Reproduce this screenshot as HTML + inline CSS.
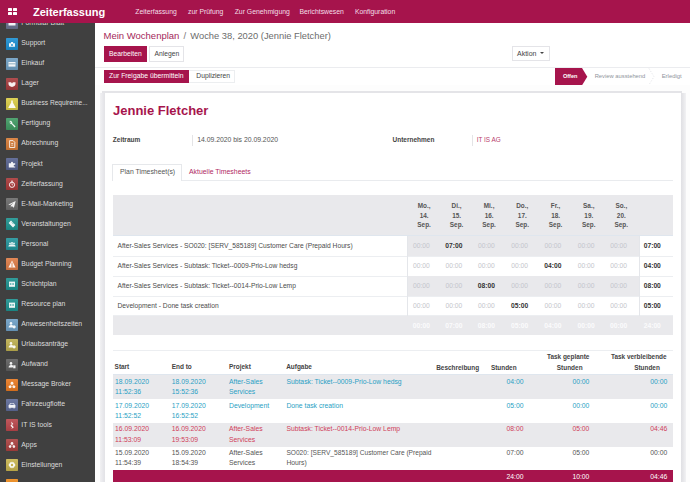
<!DOCTYPE html>
<html><head><meta charset="utf-8"><style>
html,body{margin:0;padding:0;}
body{width:690px;height:482px;overflow:hidden;position:relative;background:#fff;font-family:"Liberation Sans",sans-serif;}
.t{position:absolute;white-space:nowrap;}
.r{position:absolute;}
#top{position:absolute;left:0;top:0;width:690px;height:23px;z-index:5;}
</style></head><body>
<svg width="0" height="0" style="position:absolute"><defs><linearGradient id="ig" x1="0" y1="0" x2="0" y2="1"><stop offset="0" stop-color="#fff" stop-opacity="0.10"/><stop offset="1" stop-color="#000" stop-opacity="0.10"/></linearGradient></defs></svg>
<div id="top">
<div class="r" style="left:0px;top:0px;width:690px;height:23px;background:#a6144c;"></div>
<div class="r" style="left:8px;top:8px;width:4px;height:3.4px;background:#fff;border-radius:0.6px;"></div>
<div class="r" style="left:8px;top:12px;width:4px;height:3.4px;background:#fff;border-radius:0.6px;"></div>
<div class="r" style="left:13px;top:8px;width:4px;height:3.4px;background:#fff;border-radius:0.6px;"></div>
<div class="r" style="left:13px;top:12px;width:4px;height:3.4px;background:#fff;border-radius:0.6px;"></div>
<div class="t" style="left:33.00px;top:4.50px;font-size:11px;line-height:14px;color:#fff;font-weight:bold;">Zeiterfassung</div>
<div class="t" style="left:135.30px;top:6.70px;font-size:6.85px;line-height:10px;color:#f3dfe7;">Zeiterfassung</div>
<div class="t" style="left:188.00px;top:6.70px;font-size:6.85px;line-height:10px;color:#f3dfe7;">zur Prüfung</div>
<div class="t" style="left:234.70px;top:6.70px;font-size:6.85px;line-height:10px;color:#f3dfe7;">Zur Genehmigung</div>
<div class="t" style="left:299.40px;top:6.70px;font-size:6.85px;line-height:10px;color:#f3dfe7;">Berichtswesen</div>
<div class="t" style="left:354.90px;top:6.70px;font-size:6.85px;line-height:10px;color:#f3dfe7;">Konfiguration</div>
</div>
<div class="r" style="left:0px;top:23px;width:95px;height:459px;background:#404040;"></div>
<svg class="r" style="left:6px;top:17.45px" width="12" height="12" viewBox="0 0 12 12"><rect width="12" height="12" rx="0.7" fill="#6a7390"/><rect width="12" height="12" rx="0.7" fill="url(#ig)"/><g fill="#fff" stroke="#fff" stroke-width="0" opacity="0.92"><rect x="2.5" y="4" width="7" height="4.5" rx="0.6"/></g></svg>
<div class="t" style="left:21.30px;top:17.95px;font-size:6.85px;line-height:10px;color:#dcdcdc;">Formular Blatt</div>
<svg class="r" style="left:6px;top:37.53px" width="12" height="12" viewBox="0 0 12 12"><rect width="12" height="12" rx="0.7" fill="#1b8fd2"/><rect width="12" height="12" rx="0.7" fill="url(#ig)"/><g fill="#fff" stroke="#fff" stroke-width="0" opacity="0.92"><path d="M3 5.2h6v3.6H3z M4.9 3.9h2.2v1.4H4.9z"/><circle cx="6" cy="7" r="0.9" fill="#1b8fd2"/></g></svg>
<div class="t" style="left:21.30px;top:38.03px;font-size:6.85px;line-height:10px;color:#dcdcdc;">Support</div>
<svg class="r" style="left:6px;top:57.61px" width="12" height="12" viewBox="0 0 12 12"><rect width="12" height="12" rx="0.7" fill="#6f9fc3"/><rect width="12" height="12" rx="0.7" fill="url(#ig)"/><g fill="#fff" stroke="#fff" stroke-width="0" opacity="0.92"><rect x="2.5" y="4" width="7" height="4.6"/><rect x="2.5" y="5.4" width="7" height="0.9" fill="#8ab"/></g></svg>
<div class="t" style="left:21.30px;top:58.11px;font-size:6.85px;line-height:10px;color:#dcdcdc;">Einkauf</div>
<svg class="r" style="left:6px;top:77.69px" width="12" height="12" viewBox="0 0 12 12"><rect width="12" height="12" rx="0.7" fill="#a63a3c"/><rect width="12" height="12" rx="0.7" fill="url(#ig)"/><g fill="#fff" stroke="#fff" stroke-width="0" opacity="0.92"><path d="M2.5 4.3h2.6l0.9 1.1 0.9-1.1h2.6v1.8c0 1.6-1.6 2.8-3.5 2.8S2.5 7.7 2.5 6.1z"/></g></svg>
<div class="t" style="left:21.30px;top:78.19px;font-size:6.85px;line-height:10px;color:#dcdcdc;">Lager</div>
<svg class="r" style="left:6px;top:97.77px" width="12" height="12" viewBox="0 0 12 12"><rect width="12" height="12" rx="0.7" fill="#d9cc45"/><rect width="12" height="12" rx="0.7" fill="url(#ig)"/><g fill="#fff" stroke="#fff" stroke-width="0" opacity="0.92"><path d="M5.2 2.4h1.6v2.2l2.7 4.6c0.3 0.5 0 0.9-0.5 0.9H3c-0.5 0-0.8-0.4-0.5-0.9l2.7-4.6z"/></g></svg>
<div class="t" style="left:21.30px;top:98.27px;font-size:6.6px;line-height:10px;color:#dcdcdc;">Business Requireme...</div>
<svg class="r" style="left:6px;top:117.85px" width="12" height="12" viewBox="0 0 12 12"><rect width="12" height="12" rx="0.7" fill="#3f9a62"/><rect width="12" height="12" rx="0.7" fill="url(#ig)"/><g fill="#fff" stroke="#fff" stroke-width="0" opacity="0.92"><path d="M3.3 3.2a2 2 0 0 0 2.2 2.9l3.1 3.3 1-1-3.3-3.1a2 2 0 0 0-2.9-2.2l1.2 1.2-0.1 1-1 0.1z"/></g></svg>
<div class="t" style="left:21.30px;top:118.35px;font-size:6.85px;line-height:10px;color:#dcdcdc;">Fertigung</div>
<svg class="r" style="left:6px;top:137.93px" width="12" height="12" viewBox="0 0 12 12"><rect width="12" height="12" rx="0.7" fill="#d67a35"/><rect width="12" height="12" rx="0.7" fill="url(#ig)"/><g fill="#fff" stroke="#fff" stroke-width="0" opacity="0.92"><path d="M3.6 2.6h3.5l1.7 1.7v5.2H3.6z" fill="none" stroke="#fff" stroke-width="0.9"/><path d="M5.2 5.2h2v0.7h-2zM5.2 6.8h2v0.7h-2z"/></g></svg>
<div class="t" style="left:21.30px;top:138.43px;font-size:6.85px;line-height:10px;color:#dcdcdc;">Abrechnung</div>
<svg class="r" style="left:6px;top:158.01px" width="12" height="12" viewBox="0 0 12 12"><rect width="12" height="12" rx="0.7" fill="#55618f"/><rect width="12" height="12" rx="0.7" fill="url(#ig)"/><g fill="#fff" stroke="#fff" stroke-width="0" opacity="0.92"><path d="M2.8 5.3h2.2v-0.6a1 1 0 0 1 2 0v0.6h2.2v1.5h-0.6a0.9 0.9 0 0 0 0 1.8h0.6v1H2.8z"/></g></svg>
<div class="t" style="left:21.30px;top:158.51px;font-size:6.85px;line-height:10px;color:#dcdcdc;">Projekt</div>
<svg class="r" style="left:6px;top:178.09px" width="12" height="12" viewBox="0 0 12 12"><rect width="12" height="12" rx="0.7" fill="#a93838"/><rect width="12" height="12" rx="0.7" fill="url(#ig)"/><g fill="#fff" stroke="#fff" stroke-width="0" opacity="0.92"><circle cx="6" cy="6.8" r="2.6" fill="none" stroke="#fff" stroke-width="1"/><rect x="5.3" y="2.6" width="1.4" height="1.3"/><path d="M6 5.3v1.6h1.1" fill="none" stroke="#fff" stroke-width="0.7"/></g></svg>
<div class="t" style="left:21.30px;top:178.59px;font-size:6.85px;line-height:10px;color:#dcdcdc;">Zeiterfassung</div>
<svg class="r" style="left:6px;top:198.17px" width="12" height="12" viewBox="0 0 12 12"><rect width="12" height="12" rx="0.7" fill="#6b6b6b"/><rect width="12" height="12" rx="0.7" fill="url(#ig)"/><g fill="#fff" stroke="#fff" stroke-width="0" opacity="0.92"><path d="M2.3 6.4l7.4-3.3-1.8 6.6-2.1-1.6-1 1.4v-2.1l2.8-2.6-3.5 2.2z"/></g></svg>
<div class="t" style="left:21.30px;top:198.67px;font-size:6.85px;line-height:10px;color:#dcdcdc;">E-Mail-Marketing</div>
<svg class="r" style="left:6px;top:218.25px" width="12" height="12" viewBox="0 0 12 12"><rect width="12" height="12" rx="0.7" fill="#1d938f"/><rect width="12" height="12" rx="0.7" fill="url(#ig)"/><g fill="#fff" stroke="#fff" stroke-width="0" opacity="0.92"><path d="M5 2.6l4.4 4.4-2.4 2.4-4.4-4.4z"/><path d="M5.8 4.4l1.8 1.8" stroke="#21999a" stroke-width="0.6"/></g></svg>
<div class="t" style="left:21.30px;top:218.75px;font-size:6.85px;line-height:10px;color:#dcdcdc;">Veranstaltungen</div>
<svg class="r" style="left:6px;top:238.33px" width="12" height="12" viewBox="0 0 12 12"><rect width="12" height="12" rx="0.7" fill="#21939a"/><rect width="12" height="12" rx="0.7" fill="url(#ig)"/><g fill="#fff" stroke="#fff" stroke-width="0" opacity="0.92"><circle cx="4" cy="5.4" r="0.9"/><circle cx="6" cy="4.9" r="1"/><circle cx="8" cy="5.4" r="0.9"/><path d="M2.3 8.6c0.3-1.6 1.6-2.3 3.7-2.3s3.4 0.7 3.7 2.3z"/></g></svg>
<div class="t" style="left:21.30px;top:238.83px;font-size:6.85px;line-height:10px;color:#dcdcdc;">Personal</div>
<svg class="r" style="left:6px;top:258.41px" width="12" height="12" viewBox="0 0 12 12"><rect width="12" height="12" rx="0.7" fill="#dd7b45"/><rect width="12" height="12" rx="0.7" fill="url(#ig)"/><g fill="#fff" stroke="#fff" stroke-width="0" opacity="0.92"><path d="M6 2.6l3.6 6.8H2.4z"/><path d="M6 4.6v4.8" stroke="#dd7b45" stroke-width="0.9"/></g></svg>
<div class="t" style="left:21.30px;top:258.91px;font-size:6.85px;line-height:10px;color:#dcdcdc;">Budget Planning</div>
<svg class="r" style="left:6px;top:278.49px" width="12" height="12" viewBox="0 0 12 12"><rect width="12" height="12" rx="0.7" fill="#1c918f"/><rect width="12" height="12" rx="0.7" fill="url(#ig)"/><g fill="#fff" stroke="#fff" stroke-width="0" opacity="0.92"><rect x="3" y="3.6" width="6" height="5.2"/><rect x="3.8" y="5.4" width="1.6" height="1.2" fill="#1f9695"/><rect x="6.3" y="5.4" width="1.6" height="1.2" fill="#1f9695"/></g></svg>
<div class="t" style="left:21.30px;top:278.99px;font-size:6.85px;line-height:10px;color:#dcdcdc;">Schichtplan</div>
<svg class="r" style="left:6px;top:298.57px" width="12" height="12" viewBox="0 0 12 12"><rect width="12" height="12" rx="0.7" fill="#1c918f"/><rect width="12" height="12" rx="0.7" fill="url(#ig)"/><g fill="#fff" stroke="#fff" stroke-width="0" opacity="0.92"><rect x="3" y="3.6" width="6" height="5.2"/><rect x="3.8" y="5.4" width="1.6" height="1.2" fill="#1f9695"/><rect x="6.3" y="5.4" width="1.6" height="1.2" fill="#1f9695"/></g></svg>
<div class="t" style="left:21.30px;top:299.07px;font-size:6.85px;line-height:10px;color:#dcdcdc;">Resource plan</div>
<svg class="r" style="left:6px;top:318.65px" width="12" height="12" viewBox="0 0 12 12"><rect width="12" height="12" rx="0.7" fill="#6d9fc6"/><rect width="12" height="12" rx="0.7" fill="url(#ig)"/><g fill="#fff" stroke="#fff" stroke-width="0" opacity="0.92"><circle cx="5" cy="4.4" r="1.3"/><path d="M2.6 8.6c0-1.6 1-2.5 2.4-2.5s2 0.5 2.3 1.2l-0.6 1.3z"/><circle cx="8.1" cy="7.8" r="1.6"/></g></svg>
<div class="t" style="left:21.30px;top:319.15px;font-size:6.85px;line-height:10px;color:#dcdcdc;">Anwesenheitszeiten</div>
<svg class="r" style="left:6px;top:338.73px" width="12" height="12" viewBox="0 0 12 12"><rect width="12" height="12" rx="0.7" fill="#bcae4e"/><rect width="12" height="12" rx="0.7" fill="url(#ig)"/><g fill="#fff" stroke="#fff" stroke-width="0" opacity="0.92"><circle cx="5" cy="4.4" r="1.3"/><path d="M2.6 8.6c0-1.6 1-2.5 2.4-2.5s2 0.5 2.3 1.2l-0.6 1.3z"/><circle cx="8.1" cy="7.8" r="1.6"/></g></svg>
<div class="t" style="left:21.30px;top:339.23px;font-size:6.85px;line-height:10px;color:#dcdcdc;">Urlaubsanträge</div>
<svg class="r" style="left:6px;top:358.81px" width="12" height="12" viewBox="0 0 12 12"><rect width="12" height="12" rx="0.7" fill="#5e5e5e"/><rect width="12" height="12" rx="0.7" fill="url(#ig)"/><g fill="#fff" stroke="#fff" stroke-width="0" opacity="0.92"><circle cx="5" cy="4.4" r="1.3"/><path d="M2.6 8.6c0-1.6 1-2.5 2.4-2.5s2 0.5 2.3 1.2l-0.6 1.3z"/><rect x="7.2" y="6.3" width="2.3" height="3" /></g></svg>
<div class="t" style="left:21.30px;top:359.31px;font-size:6.85px;line-height:10px;color:#dcdcdc;">Aufwand</div>
<svg class="r" style="left:6px;top:378.89px" width="12" height="12" viewBox="0 0 12 12"><rect width="12" height="12" rx="0.7" fill="#e8781f"/><rect width="12" height="12" rx="0.7" fill="url(#ig)"/><g fill="#fff" stroke="#fff" stroke-width="0" opacity="0.92"><circle cx="6" cy="4.2" r="1.4"/><circle cx="4" cy="7.8" r="1.4"/><circle cx="8" cy="7.8" r="1.4"/><path d="M6 4.2L4 7.8M6 4.2l2 3.6M4 7.8h4" stroke="#fff" stroke-width="0.6" fill="none"/></g></svg>
<div class="t" style="left:21.30px;top:379.39px;font-size:6.85px;line-height:10px;color:#dcdcdc;">Message Broker</div>
<svg class="r" style="left:6px;top:398.97px" width="12" height="12" viewBox="0 0 12 12"><rect width="12" height="12" rx="0.7" fill="#5d6a98"/><rect width="12" height="12" rx="0.7" fill="url(#ig)"/><g fill="#fff" stroke="#fff" stroke-width="0" opacity="0.92"><path d="M3.2 6l0.9-2h3.8l0.9 2h0.6v2.8H8.5v0.7H7.6v-0.7H4.4v0.7H3.5v-0.7H2.6V6z"/><rect x="4.3" y="4.6" width="3.4" height="1.3" fill="#5d6a98"/></g></svg>
<div class="t" style="left:21.30px;top:399.47px;font-size:6.85px;line-height:10px;color:#dcdcdc;">Fahrzeugflotte</div>
<svg class="r" style="left:6px;top:419.05px" width="12" height="12" viewBox="0 0 12 12"><rect width="12" height="12" rx="0.7" fill="#b9454a"/><rect width="12" height="12" rx="0.7" fill="url(#ig)"/><g fill="#fff" stroke="#fff" stroke-width="0" opacity="0.92"><path d="M5.2 2.6l2.2 2.3-1.5 1.2 2 2.2-2.6 1.7 0.9-1.6-1.8-1.7 1.3-1.2z"/></g></svg>
<div class="t" style="left:21.30px;top:419.55px;font-size:6.85px;line-height:10px;color:#dcdcdc;">IT IS tools</div>
<svg class="r" style="left:6px;top:439.13px" width="12" height="12" viewBox="0 0 12 12"><rect width="12" height="12" rx="0.7" fill="#a9403f"/><rect width="12" height="12" rx="0.7" fill="url(#ig)"/><g fill="#fff" stroke="#fff" stroke-width="0" opacity="0.92"><circle cx="6" cy="4.3" r="1.3"/><circle cx="4.1" cy="7.6" r="1.3"/><circle cx="7.9" cy="7.6" r="1.3"/><path d="M6 4.3L4.1 7.6M6 4.3l1.9 3.3" stroke="#fff" stroke-width="0.7" fill="none"/></g></svg>
<div class="t" style="left:21.30px;top:439.63px;font-size:6.85px;line-height:10px;color:#dcdcdc;">Apps</div>
<svg class="r" style="left:6px;top:459.21px" width="12" height="12" viewBox="0 0 12 12"><rect width="12" height="12" rx="0.7" fill="#c8b44d"/><rect width="12" height="12" rx="0.7" fill="url(#ig)"/><g fill="#fff" stroke="#fff" stroke-width="0" opacity="0.92"><path d="M6 2.6l0.8 0.9 1.2-0.3 0.3 1.2 1.1 0.5-0.4 1.1 0.4 1.1-1.1 0.5-0.3 1.2-1.2-0.3L6 9.4l-0.8-0.9-1.2 0.3-0.3-1.2-1.1-0.5 0.4-1.1-0.4-1.1 1.1-0.5 0.3-1.2 1.2 0.3z"/><circle cx="6" cy="6" r="1.2" fill="#c8b44d"/></g></svg>
<div class="t" style="left:21.30px;top:459.71px;font-size:6.85px;line-height:10px;color:#dcdcdc;">Einstellungen</div>
<svg class="r" style="left:6px;top:479.29px" width="12" height="12" viewBox="0 0 12 12"><rect width="12" height="12" rx="0.7" fill="#ee8a1a"/><rect width="12" height="12" rx="0.7" fill="url(#ig)"/><g fill="#fff" stroke="#fff" stroke-width="0" opacity="0.92"></g></svg>
<div class="t" style="left:21.30px;top:479.79px;font-size:6.85px;line-height:10px;color:#dcdcdc;">Zeiterfassung</div>
<div class="r" style="left:95px;top:23px;width:595px;height:459px;background:#fff;"></div>
<div class="t" style="left:103.50px;top:30.00px;font-size:9.5px;line-height:12px;color:#a4285a;">Mein Wochenplan</div>
<div class="t" style="left:183.40px;top:30.00px;font-size:9.5px;line-height:12px;color:#777;">/</div>
<div class="t" style="left:190.30px;top:30.00px;font-size:9.35px;line-height:12px;color:#6c6c6c;">Woche 38, 2020 (Jennie Fletcher)</div>
<div class="r" style="left:103.7px;top:45.6px;width:43.5px;height:16px;background:#a6144c;"></div>
<div class="t" style="left:109.10px;top:48.60px;font-size:6.75px;line-height:10px;color:#fff;">Bearbeiten</div>
<div class="r" style="left:149.3px;top:45.6px;width:35.2px;height:16px;box-sizing:border-box;border:1px solid #e4e4e8;background:#fff"></div>
<div class="t" style="left:154.50px;top:48.60px;font-size:6.75px;line-height:10px;color:#444;">Anlegen</div>
<div class="r" style="left:511.7px;top:45.7px;width:38.3px;height:15.6px;box-sizing:border-box;border:1px solid #e4e4e8;background:#fff"></div>
<div class="t" style="left:517.00px;top:48.50px;font-size:7px;line-height:10px;color:#444;">Aktion</div>
<div class="r" style="left:540px;top:52px;width:0;height:0;border-left:2.2px solid transparent;border-right:2.2px solid transparent;border-top:2.5px solid #444"></div>
<div class="r" style="left:95px;top:66.7px;width:595px;height:0.8px;background:#ebecef;"></div>
<div class="r" style="left:95px;top:84.5px;width:595px;height:0.8px;background:#eceef2;"></div>
<div class="r" style="left:103.5px;top:69.7px;width:85.6px;height:13.2px;background:#a6144c;"></div>
<div class="t" style="left:109.10px;top:71.30px;font-size:6.8px;line-height:10px;color:#fff;">Zur Freigabe übermitteln</div>
<div class="r" style="left:189.1px;top:69.7px;width:46px;height:13.2px;box-sizing:border-box;border:1px solid #eceef0;border-left:none;background:#fff"></div>
<div class="t" style="left:196.30px;top:71.30px;font-size:6.75px;line-height:10px;color:#444;">Duplizieren</div>
<svg class="r" style="left:555px;top:67.5px" width="33" height="17.3" viewBox="0 0 33 17.3"><polygon points="0,0 27,0 32.3,8.65 27,17.3 0,17.3" fill="#a6144c"/></svg>
<div class="t" style="left:562.90px;top:71.20px;font-size:5.6px;line-height:10px;color:#fff;font-weight:bold;">Offen</div>
<div class="t" style="left:594.70px;top:71.20px;font-size:5.8px;line-height:10px;color:#8f949c;">Review ausstehend</div>
<svg class="r" style="left:648px;top:67.5px" width="10" height="17.3" viewBox="0 0 10 17.3"><polyline points="1,0.5 6,8.65 1,16.8" fill="none" stroke="#d8dadf" stroke-width="0.7" stroke-dasharray="1.2,1.6"/></svg>
<div class="t" style="left:661.70px;top:71.20px;font-size:5.9px;line-height:10px;color:#8f949c;">Erledigt</div>
<div class="r" style="left:95px;top:85.3px;width:595px;height:397px;background:#fdfdfd;"></div>
<div class="r" style="left:99.5px;top:93px;width:5.5px;height:389px;background:linear-gradient(90deg,#f1f1f3,#e6e6ea 70%,#dcdce0 80%,#ececef);"></div>
<div class="r" style="left:680.7px;top:93px;width:5.5px;height:389px;background:linear-gradient(90deg,#e0e0e4,#e6e6e9 40%,#f2f2f4);"></div>
<div class="r" style="left:102.4px;top:90.8px;width:580px;height:2.3px;background:linear-gradient(180deg,#ececef,#dcdce0 50%,#ececef);"></div>
<div class="r" style="left:105px;top:93px;width:575.7px;height:389px;background:#fff;"></div>
<div class="t" style="left:113.00px;top:103.00px;font-size:13px;line-height:16px;color:#a6144c;font-weight:bold;">Jennie Fletcher</div>
<div class="t" style="left:112.80px;top:135.00px;font-size:6.5px;line-height:10px;color:#444;font-weight:bold;">Zeitraum</div>
<div class="r" style="left:192.2px;top:135px;width:0.8px;height:11px;background:#e4e4e6;"></div>
<div class="t" style="left:197.20px;top:135.00px;font-size:6.83px;line-height:10px;color:#555;">14.09.2020 bis 20.09.2020</div>
<div class="t" style="left:392.50px;top:135.00px;font-size:6.5px;line-height:10px;color:#444;font-weight:bold;">Unternehmen</div>
<div class="r" style="left:472px;top:135px;width:0.8px;height:11px;background:#e4e4e6;"></div>
<div class="t" style="left:476.70px;top:135.00px;font-size:6.4px;line-height:10px;color:#b8406c;">IT IS AG</div>
<div class="r" style="left:113px;top:179.7px;width:559.6px;height:0.8px;background:#e9ebee;"></div>
<div class="r" style="left:112.4px;top:163.6px;width:69.6px;height:17px;box-sizing:border-box;border:0.8px solid #e6e8eb;border-bottom:none;background:#fff"></div>
<div class="t" style="left:120.00px;top:166.70px;font-size:6.85px;line-height:10px;color:#555;">Plan Timesheet(s)</div>
<div class="t" style="left:189.00px;top:166.70px;font-size:6.9px;line-height:10px;color:#b0285f;">Aktuelle Timesheets</div>
<div class="r" style="left:113px;top:194.5px;width:559.6px;height:41px;background:#e9e9ec;"></div>
<div class="r" style="left:113px;top:235.2px;width:559.6px;height:0.6px;background:#dfe6ee;"></div>
<div class="t" style="left:374.10px;width:100px;top:200.60px;font-size:6.4px;line-height:10px;color:#555;font-weight:bold;text-align:center;">Mo.,</div>
<div class="t" style="left:374.10px;width:100px;top:210.70px;font-size:6.4px;line-height:10px;color:#555;font-weight:bold;text-align:center;">14.</div>
<div class="t" style="left:374.10px;width:100px;top:220.40px;font-size:6.4px;line-height:10px;color:#555;font-weight:bold;text-align:center;">Sep.</div>
<div class="t" style="left:406.60px;width:100px;top:200.60px;font-size:6.4px;line-height:10px;color:#555;font-weight:bold;text-align:center;">Di.,</div>
<div class="t" style="left:406.60px;width:100px;top:210.70px;font-size:6.4px;line-height:10px;color:#555;font-weight:bold;text-align:center;">15.</div>
<div class="t" style="left:406.60px;width:100px;top:220.40px;font-size:6.4px;line-height:10px;color:#555;font-weight:bold;text-align:center;">Sep.</div>
<div class="t" style="left:439.10px;width:100px;top:200.60px;font-size:6.4px;line-height:10px;color:#555;font-weight:bold;text-align:center;">Mi.,</div>
<div class="t" style="left:439.10px;width:100px;top:210.70px;font-size:6.4px;line-height:10px;color:#555;font-weight:bold;text-align:center;">16.</div>
<div class="t" style="left:439.10px;width:100px;top:220.40px;font-size:6.4px;line-height:10px;color:#555;font-weight:bold;text-align:center;">Sep.</div>
<div class="t" style="left:472.30px;width:100px;top:200.60px;font-size:6.4px;line-height:10px;color:#555;font-weight:bold;text-align:center;">Do.,</div>
<div class="t" style="left:472.30px;width:100px;top:210.70px;font-size:6.4px;line-height:10px;color:#555;font-weight:bold;text-align:center;">17.</div>
<div class="t" style="left:472.30px;width:100px;top:220.40px;font-size:6.4px;line-height:10px;color:#555;font-weight:bold;text-align:center;">Sep.</div>
<div class="t" style="left:505.60px;width:100px;top:200.60px;font-size:6.4px;line-height:10px;color:#555;font-weight:bold;text-align:center;">Fr.,</div>
<div class="t" style="left:505.60px;width:100px;top:210.70px;font-size:6.4px;line-height:10px;color:#555;font-weight:bold;text-align:center;">18.</div>
<div class="t" style="left:505.60px;width:100px;top:220.40px;font-size:6.4px;line-height:10px;color:#555;font-weight:bold;text-align:center;">Sep.</div>
<div class="t" style="left:538.80px;width:100px;top:200.60px;font-size:6.4px;line-height:10px;color:#555;font-weight:bold;text-align:center;">Sa.,</div>
<div class="t" style="left:538.80px;width:100px;top:210.70px;font-size:6.4px;line-height:10px;color:#555;font-weight:bold;text-align:center;">19.</div>
<div class="t" style="left:538.80px;width:100px;top:220.40px;font-size:6.4px;line-height:10px;color:#555;font-weight:bold;text-align:center;">Sep.</div>
<div class="t" style="left:571.30px;width:100px;top:200.60px;font-size:6.4px;line-height:10px;color:#555;font-weight:bold;text-align:center;">So.,</div>
<div class="t" style="left:571.30px;width:100px;top:210.70px;font-size:6.4px;line-height:10px;color:#555;font-weight:bold;text-align:center;">20.</div>
<div class="t" style="left:571.30px;width:100px;top:220.40px;font-size:6.4px;line-height:10px;color:#555;font-weight:bold;text-align:center;">Sep.</div>
<div class="r" style="left:407.4px;top:235.5px;width:231.6px;height:20.600000000000023px;background:#e9e9ec;"></div>
<div class="r" style="left:113px;top:255.50000000000003px;width:559.6px;height:0.8px;background:#eceef1;"></div>
<div class="t" style="left:117.50px;top:240.80px;font-size:6.7px;line-height:10px;color:#4c4c4c;">After-Sales Services - SO020: [SERV_585189] Customer Care (Prepaid Hours)</div>
<div class="t" style="left:371.40px;width:100px;top:240.80px;font-size:6.7px;line-height:10px;color:#c4c6cc;text-align:center;">00:00</div>
<div class="t" style="left:403.90px;width:100px;top:240.80px;font-size:6.7px;line-height:10px;color:#333;font-weight:bold;text-align:center;">07:00</div>
<div class="t" style="left:436.40px;width:100px;top:240.80px;font-size:6.7px;line-height:10px;color:#c4c6cc;text-align:center;">00:00</div>
<div class="t" style="left:469.60px;width:100px;top:240.80px;font-size:6.7px;line-height:10px;color:#c4c6cc;text-align:center;">00:00</div>
<div class="t" style="left:502.90px;width:100px;top:240.80px;font-size:6.7px;line-height:10px;color:#c4c6cc;text-align:center;">00:00</div>
<div class="t" style="left:536.10px;width:100px;top:240.80px;font-size:6.7px;line-height:10px;color:#c4c6cc;text-align:center;">00:00</div>
<div class="t" style="left:568.60px;width:100px;top:240.80px;font-size:6.7px;line-height:10px;color:#c4c6cc;text-align:center;">00:00</div>
<div class="t" style="left:602.30px;width:100px;top:240.80px;font-size:6.7px;line-height:10px;color:#333;font-weight:bold;text-align:center;">07:00</div>
<div class="r" style="left:113px;top:275.79999999999995px;width:559.6px;height:0.8px;background:#eceef1;"></div>
<div class="t" style="left:117.50px;top:261.25px;font-size:6.7px;line-height:10px;color:#4c4c4c;">After-Sales Services - Subtask: Ticket--0009-Prio-Low hedsg</div>
<div class="t" style="left:371.40px;width:100px;top:261.25px;font-size:6.7px;line-height:10px;color:#c4c6cc;text-align:center;">00:00</div>
<div class="t" style="left:403.90px;width:100px;top:261.25px;font-size:6.7px;line-height:10px;color:#c4c6cc;text-align:center;">00:00</div>
<div class="t" style="left:436.40px;width:100px;top:261.25px;font-size:6.7px;line-height:10px;color:#c4c6cc;text-align:center;">00:00</div>
<div class="t" style="left:469.60px;width:100px;top:261.25px;font-size:6.7px;line-height:10px;color:#c4c6cc;text-align:center;">00:00</div>
<div class="t" style="left:502.90px;width:100px;top:261.25px;font-size:6.7px;line-height:10px;color:#333;font-weight:bold;text-align:center;">04:00</div>
<div class="t" style="left:536.10px;width:100px;top:261.25px;font-size:6.7px;line-height:10px;color:#c4c6cc;text-align:center;">00:00</div>
<div class="t" style="left:568.60px;width:100px;top:261.25px;font-size:6.7px;line-height:10px;color:#c4c6cc;text-align:center;">00:00</div>
<div class="t" style="left:602.30px;width:100px;top:261.25px;font-size:6.7px;line-height:10px;color:#333;font-weight:bold;text-align:center;">04:00</div>
<div class="r" style="left:407.4px;top:276.4px;width:231.6px;height:19.80000000000001px;background:#e9e9ec;"></div>
<div class="r" style="left:113px;top:295.59999999999997px;width:559.6px;height:0.8px;background:#eceef1;"></div>
<div class="t" style="left:117.50px;top:281.30px;font-size:6.7px;line-height:10px;color:#4c4c4c;">After-Sales Services - Subtask: Ticket--0014-Prio-Low Lemp</div>
<div class="t" style="left:371.40px;width:100px;top:281.30px;font-size:6.7px;line-height:10px;color:#c4c6cc;text-align:center;">00:00</div>
<div class="t" style="left:403.90px;width:100px;top:281.30px;font-size:6.7px;line-height:10px;color:#c4c6cc;text-align:center;">00:00</div>
<div class="t" style="left:436.40px;width:100px;top:281.30px;font-size:6.7px;line-height:10px;color:#333;font-weight:bold;text-align:center;">08:00</div>
<div class="t" style="left:469.60px;width:100px;top:281.30px;font-size:6.7px;line-height:10px;color:#c4c6cc;text-align:center;">00:00</div>
<div class="t" style="left:502.90px;width:100px;top:281.30px;font-size:6.7px;line-height:10px;color:#c4c6cc;text-align:center;">00:00</div>
<div class="t" style="left:536.10px;width:100px;top:281.30px;font-size:6.7px;line-height:10px;color:#c4c6cc;text-align:center;">00:00</div>
<div class="t" style="left:568.60px;width:100px;top:281.30px;font-size:6.7px;line-height:10px;color:#c4c6cc;text-align:center;">00:00</div>
<div class="t" style="left:602.30px;width:100px;top:281.30px;font-size:6.7px;line-height:10px;color:#333;font-weight:bold;text-align:center;">08:00</div>
<div class="r" style="left:113px;top:315.4px;width:559.6px;height:0.8px;background:#eceef1;"></div>
<div class="t" style="left:117.50px;top:301.10px;font-size:6.7px;line-height:10px;color:#4c4c4c;">Development - Done task creation</div>
<div class="t" style="left:371.40px;width:100px;top:301.10px;font-size:6.7px;line-height:10px;color:#c4c6cc;text-align:center;">00:00</div>
<div class="t" style="left:403.90px;width:100px;top:301.10px;font-size:6.7px;line-height:10px;color:#c4c6cc;text-align:center;">00:00</div>
<div class="t" style="left:436.40px;width:100px;top:301.10px;font-size:6.7px;line-height:10px;color:#c4c6cc;text-align:center;">00:00</div>
<div class="t" style="left:469.60px;width:100px;top:301.10px;font-size:6.7px;line-height:10px;color:#333;font-weight:bold;text-align:center;">05:00</div>
<div class="t" style="left:502.90px;width:100px;top:301.10px;font-size:6.7px;line-height:10px;color:#c4c6cc;text-align:center;">00:00</div>
<div class="t" style="left:536.10px;width:100px;top:301.10px;font-size:6.7px;line-height:10px;color:#c4c6cc;text-align:center;">00:00</div>
<div class="t" style="left:568.60px;width:100px;top:301.10px;font-size:6.7px;line-height:10px;color:#c4c6cc;text-align:center;">00:00</div>
<div class="t" style="left:602.30px;width:100px;top:301.10px;font-size:6.7px;line-height:10px;color:#333;font-weight:bold;text-align:center;">05:00</div>
<div class="r" style="left:407.2px;top:235.5px;width:0.8px;height:80.5px;background:#e4e6ea;"></div>
<div class="r" style="left:638.8px;top:235.5px;width:0.8px;height:80.5px;background:#e4e6ea;"></div>
<div class="r" style="left:113px;top:316px;width:559.6px;height:19.2px;background:#e9e9ec;"></div>
<div class="t" style="left:371.40px;width:100px;top:321.30px;font-size:6.7px;line-height:10px;color:#fbfbfc;font-weight:bold;text-align:center;">00:00</div>
<div class="t" style="left:403.90px;width:100px;top:321.30px;font-size:6.7px;line-height:10px;color:#fbfbfc;font-weight:bold;text-align:center;">07:00</div>
<div class="t" style="left:436.40px;width:100px;top:321.30px;font-size:6.7px;line-height:10px;color:#fbfbfc;font-weight:bold;text-align:center;">08:00</div>
<div class="t" style="left:469.60px;width:100px;top:321.30px;font-size:6.7px;line-height:10px;color:#fbfbfc;font-weight:bold;text-align:center;">05:00</div>
<div class="t" style="left:502.90px;width:100px;top:321.30px;font-size:6.7px;line-height:10px;color:#fbfbfc;font-weight:bold;text-align:center;">04:00</div>
<div class="t" style="left:536.10px;width:100px;top:321.30px;font-size:6.7px;line-height:10px;color:#fbfbfc;font-weight:bold;text-align:center;">00:00</div>
<div class="t" style="left:568.60px;width:100px;top:321.30px;font-size:6.7px;line-height:10px;color:#fbfbfc;font-weight:bold;text-align:center;">00:00</div>
<div class="t" style="left:602.30px;width:100px;top:321.30px;font-size:6.7px;line-height:10px;color:#fbfbfc;font-weight:bold;text-align:center;">24:00</div>
<div class="r" style="left:113px;top:350.2px;width:559.6px;height:0.8px;background:#eceef1;"></div>
<div class="t" style="left:114.60px;top:362.00px;font-size:6.45px;line-height:10px;color:#444;font-weight:bold;">Start</div>
<div class="t" style="left:171.70px;top:362.00px;font-size:6.45px;line-height:10px;color:#444;font-weight:bold;">End to</div>
<div class="t" style="left:229.00px;top:362.00px;font-size:6.45px;line-height:10px;color:#444;font-weight:bold;">Projekt</div>
<div class="t" style="left:286.20px;top:362.00px;font-size:6.45px;line-height:10px;color:#444;font-weight:bold;">Aufgabe</div>
<div class="t" style="left:436.20px;top:362.50px;font-size:6.45px;line-height:10px;color:#444;font-weight:bold;">Beschreibung</div>
<div class="t" style="left:490.90px;top:362.50px;font-size:6.45px;line-height:10px;color:#444;font-weight:bold;">Stunden</div>
<div class="t" style="left:518.20px;width:100px;top:352.20px;font-size:6.45px;line-height:10px;color:#444;font-weight:bold;text-align:center;">Task geplante</div>
<div class="t" style="left:519.70px;width:100px;top:362.50px;font-size:6.45px;line-height:10px;color:#444;font-weight:bold;text-align:center;">Stunden</div>
<div class="t" style="left:588.80px;width:100px;top:352.20px;font-size:6.45px;line-height:10px;color:#444;font-weight:bold;text-align:center;">Task verbleibende</div>
<div class="t" style="left:597.00px;width:100px;top:362.50px;font-size:6.45px;line-height:10px;color:#444;font-weight:bold;text-align:center;">Stunden</div>
<div class="r" style="left:113px;top:373.8px;width:559.6px;height:0.8px;background:#dfe6ee;"></div>
<div class="r" style="left:113px;top:374.5px;width:559.6px;height:24.69999999999999px;background:#e9e9ec;"></div>
<div class="t" style="left:115.10px;top:376.90px;font-size:6.8px;line-height:10px;color:#2a9fc4;">18.09.2020</div>
<div class="t" style="left:115.10px;top:387.10px;font-size:6.8px;line-height:10px;color:#2a9fc4;">11:52:36</div>
<div class="t" style="left:171.70px;top:376.90px;font-size:6.8px;line-height:10px;color:#2a9fc4;">18.09.2020</div>
<div class="t" style="left:171.70px;top:387.10px;font-size:6.8px;line-height:10px;color:#2a9fc4;">15:52:36</div>
<div class="t" style="left:229.00px;top:376.90px;font-size:6.8px;line-height:10px;color:#2a9fc4;">After-Sales</div>
<div class="t" style="left:229.00px;top:387.10px;font-size:6.8px;line-height:10px;color:#2a9fc4;">Services</div>
<div class="t" style="left:286.40px;top:376.90px;font-size:6.8px;line-height:10px;color:#2a9fc4;">Subtask: Ticket--0009-Prio-Low hedsg</div>
<div class="t" style="right:166.50px;top:376.90px;font-size:6.8px;line-height:10px;color:#2a9fc4;text-align:right;">04:00</div>
<div class="t" style="right:100.60px;top:376.90px;font-size:6.8px;line-height:10px;color:#2a9fc4;text-align:right;">00:00</div>
<div class="t" style="right:22.70px;top:376.90px;font-size:6.8px;line-height:10px;color:#2a9fc4;text-align:right;">00:00</div>
<div class="t" style="left:115.10px;top:400.60px;font-size:6.8px;line-height:10px;color:#2a9fc4;">17.09.2020</div>
<div class="t" style="left:115.10px;top:410.80px;font-size:6.8px;line-height:10px;color:#2a9fc4;">11:52:52</div>
<div class="t" style="left:171.70px;top:400.60px;font-size:6.8px;line-height:10px;color:#2a9fc4;">17.09.2020</div>
<div class="t" style="left:171.70px;top:410.80px;font-size:6.8px;line-height:10px;color:#2a9fc4;">16:52:52</div>
<div class="t" style="left:229.00px;top:400.60px;font-size:6.8px;line-height:10px;color:#2a9fc4;">Development</div>
<div class="t" style="left:286.40px;top:400.60px;font-size:6.8px;line-height:10px;color:#2a9fc4;">Done task creation</div>
<div class="t" style="right:166.50px;top:400.60px;font-size:6.8px;line-height:10px;color:#2a9fc4;text-align:right;">05:00</div>
<div class="t" style="right:100.60px;top:400.60px;font-size:6.8px;line-height:10px;color:#2a9fc4;text-align:right;">00:00</div>
<div class="t" style="right:22.70px;top:400.60px;font-size:6.8px;line-height:10px;color:#2a9fc4;text-align:right;">00:00</div>
<div class="r" style="left:113px;top:422.9px;width:559.6px;height:23.700000000000045px;background:#e9e9ec;"></div>
<div class="t" style="left:115.10px;top:424.30px;font-size:6.8px;line-height:10px;color:#d0405a;">16.09.2020</div>
<div class="t" style="left:115.10px;top:434.50px;font-size:6.8px;line-height:10px;color:#d0405a;">11:53:09</div>
<div class="t" style="left:171.70px;top:424.30px;font-size:6.8px;line-height:10px;color:#d0405a;">16.09.2020</div>
<div class="t" style="left:171.70px;top:434.50px;font-size:6.8px;line-height:10px;color:#d0405a;">19:53:09</div>
<div class="t" style="left:229.00px;top:424.30px;font-size:6.8px;line-height:10px;color:#d0405a;">After-Sales</div>
<div class="t" style="left:229.00px;top:434.50px;font-size:6.8px;line-height:10px;color:#d0405a;">Services</div>
<div class="t" style="left:286.40px;top:424.30px;font-size:6.8px;line-height:10px;color:#d0405a;">Subtask: Ticket--0014-Prio-Low Lemp</div>
<div class="t" style="right:166.50px;top:424.30px;font-size:6.8px;line-height:10px;color:#d0405a;text-align:right;">08:00</div>
<div class="t" style="right:100.60px;top:424.30px;font-size:6.8px;line-height:10px;color:#d0405a;text-align:right;">05:00</div>
<div class="t" style="right:22.70px;top:424.30px;font-size:6.8px;line-height:10px;color:#d0405a;text-align:right;">04:46</div>
<div class="t" style="left:115.10px;top:448.00px;font-size:6.8px;line-height:10px;color:#555;">15.09.2020</div>
<div class="t" style="left:115.10px;top:458.20px;font-size:6.8px;line-height:10px;color:#555;">11:54:39</div>
<div class="t" style="left:171.70px;top:448.00px;font-size:6.8px;line-height:10px;color:#555;">15.09.2020</div>
<div class="t" style="left:171.70px;top:458.20px;font-size:6.8px;line-height:10px;color:#555;">18:54:39</div>
<div class="t" style="left:229.00px;top:448.00px;font-size:6.8px;line-height:10px;color:#555;">After-Sales</div>
<div class="t" style="left:229.00px;top:458.20px;font-size:6.8px;line-height:10px;color:#555;">Services</div>
<div class="t" style="left:286.40px;top:448.00px;font-size:6.62px;line-height:10px;color:#555;">SO020: [SERV_585189] Customer Care (Prepaid</div>
<div class="t" style="left:286.40px;top:458.20px;font-size:6.8px;line-height:10px;color:#555;">Hours)</div>
<div class="t" style="right:166.50px;top:448.00px;font-size:6.8px;line-height:10px;color:#555;text-align:right;">07:00</div>
<div class="t" style="right:100.60px;top:448.00px;font-size:6.8px;line-height:10px;color:#555;text-align:right;">05:00</div>
<div class="t" style="right:22.70px;top:448.00px;font-size:6.8px;line-height:10px;color:#555;text-align:right;">00:00</div>
<div class="r" style="left:113px;top:469.9px;width:559.6px;height:12px;background:#a6144c;"></div>
<div class="t" style="right:166.50px;top:471.50px;font-size:6.8px;line-height:10px;color:#fff;text-align:right;">24:00</div>
<div class="t" style="right:100.60px;top:471.50px;font-size:6.8px;line-height:10px;color:#fff;text-align:right;">10:00</div>
<div class="t" style="right:22.70px;top:471.50px;font-size:6.8px;line-height:10px;color:#fff;text-align:right;">04:46</div>
</body></html>
